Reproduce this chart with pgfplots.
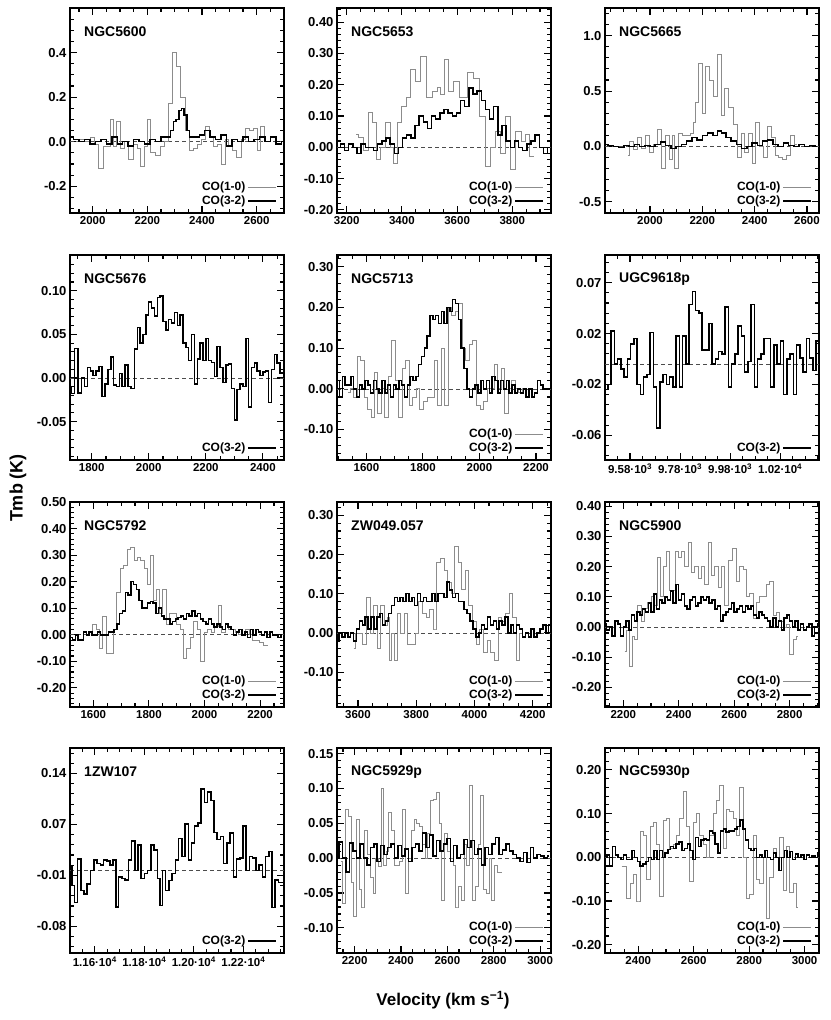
\documentclass[border=0pt]{standalone}
\usepackage{fontspec}
\setmainfont{Liberation Sans}
\usepackage{pgfplots}
\pgfplotsset{compat=1.18}

\pgfplotsset{
  panel/.style={
    scale only axis, width=214pt, height=205pt, anchor=north west,
    axis line style={line width=1.6pt},
    tick align=inside, scaled ticks=false,
    major tick length=7pt, minor tick length=4pt,
    every tick/.style={black, line width=1.1pt},
    xticklabel style={font=\bfseries\fontsize{11.5}{13}\selectfont},
    yticklabel style={font=\bfseries\fontsize{13}{14}\selectfont},
    xticklabel={\pgfmathprintnumber[fixed,precision=0,1000 sep={},assume math mode=true]{\tick}},
    legend style={draw=none, fill=none, at={(0.97,0.02)}, anchor=south east,
      font=\bfseries\fontsize{12}{12}\selectfont, row sep=0pt, inner sep=0.5pt},
    legend cell align=right, legend plot pos=right,
    legend image code/.code={\draw[#1] (0pt,0pt) -- (28pt,0pt);},
  },
  ylab/.style={yticklabel={\pgfmathprintnumber[fixed,fixed zerofill,precision=#1,assume math mode=true]{\tick}}},
  co10/.style={const plot mark mid, color=black!45, line width=0.8pt},
  co32/.style={const plot mark mid, black, line width=1.5pt},
  zero/.style={dash pattern=on 4pt off 3pt, black!70, line width=0.6pt, forget plot},
}
\newcommand{\galname}[1]{\node[anchor=west, font=\bfseries\fontsize{14}{16}\selectfont] at (rel axis cs:0.05,0.885) {#1};}

\begin{document}
\begin{tikzpicture}
\useasboundingbox (0,0) rectangle (830pt,-1020pt);

% ---------------- row 1 ----------------
\begin{axis}[panel, at={(70pt,-8pt)}, xmin=1917, xmax=2700, ymin=-0.32, ymax=0.6,
  xtick={2000,2200,2400,2600}, minor xtick={1950,2000,...,2700},
  ytick={-0.2,0,0.2,0.4}, minor ytick={-0.3,-0.25,...,0.6}, ylab=1]
\addplot[zero] coordinates {(1917,0) (2700,0)};
\addplot[co10] coordinates {(1940,0.0) (1960,0.01) (1980,0.0) (2000,0.02) (2015,-0.01) (2030,-0.12) (2045,-0.02) (2060,-0.02) (2070,0.1) (2080,-0.02) (2095,0.09) (2110,-0.03) (2125,0.0) (2140,-0.08) (2155,-0.01) (2170,-0.03) (2180,-0.11) (2195,-0.02) (2205,0.1) (2220,-0.05) (2240,-0.06) (2255,-0.02) (2270,0.0) (2285,0.17) (2300,0.4) (2315,0.34) (2330,0.2) (2345,0.05) (2360,-0.04) (2375,-0.03) (2390,-0.01) (2405,0.01) (2420,0.07) (2435,0.02) (2450,-0.02) (2465,-0.01) (2478,-0.1) (2490,0.01) (2505,-0.02) (2520,-0.04) (2535,-0.07) (2550,0.01) (2565,0.06) (2580,0.05) (2595,0.06) (2610,-0.04) (2620,0.07) (2635,0.02)};
\addlegendentry{CO(1-0)}
\addplot[co32] coordinates {(1920,0.02) (1940,0.01) (1960,0.0) (1980,0.01) (2000,-0.01) (2020,0.0) (2040,0.01) (2060,-0.01) (2080,0.02) (2100,-0.01) (2120,0.0) (2140,-0.02) (2160,0.01) (2180,0.0) (2200,-0.01) (2220,0.01) (2240,0.0) (2260,0.02) (2280,0.02) (2290,0.05) (2300,0.09) (2310,0.1) (2320,0.14) (2330,0.15) (2340,0.12) (2350,0.05) (2360,0.02) (2380,0.02) (2400,0.03) (2420,0.05) (2440,0.02) (2460,0.01) (2480,0.03) (2500,-0.02) (2520,0.01) (2540,0.0) (2560,0.02) (2580,0.0) (2600,0.01) (2620,0.02) (2640,0.0) (2660,0.02) (2680,-0.01) (2700,0.0)};
\addlegendentry{CO(3-2)}
\galname{NGC5600}
\end{axis}

\begin{axis}[panel, at={(337pt,-8pt)}, xmin=3165, xmax=3940, ymin=-0.21, ymax=0.445,
  xtick={3200,3400,3600,3800}, minor xtick={3200,3250,...,3900},
  ytick={-0.2,-0.1,0,0.1,0.2,0.3,0.4}, minor ytick={-0.2,-0.18,...,0.44}, ylab=2]
\addplot[zero] coordinates {(3165,0) (3940,0)};
\addplot[co10] coordinates {(3235,0.04) (3250,0.03) (3270,-0.01) (3290,0.11) (3300,0.08) (3315,-0.04) (3330,0.0) (3350,0.08) (3365,0.0) (3375,-0.05) (3390,0.08) (3410,0.13) (3425,0.16) (3440,0.25) (3455,0.21) (3480,0.29) (3500,0.16) (3520,0.18) (3535,0.19) (3545,0.17) (3560,0.28) (3575,0.18) (3595,0.21) (3625,0.16) (3650,0.24) (3670,0.22) (3690,0.1) (3712,-0.06) (3730,0.0) (3748,0.05) (3765,-0.02) (3785,0.1) (3800,-0.07) (3825,0.05) (3840,0.02) (3855,0.04) (3870,-0.03) (3880,-0.03)};
\addlegendentry{CO(1-0)}
\addplot[co32] coordinates {(3170,0.0) (3185,0.01) (3200,-0.01) (3215,0.01) (3230,0.0) (3245,-0.02) (3260,0.01) (3275,0.0) (3290,0.0) (3305,-0.01) (3320,0.01) (3335,0.02) (3350,0.03) (3365,0.01) (3380,-0.02) (3395,0.0) (3410,0.03) (3425,0.04) (3440,0.03) (3455,0.07) (3470,0.1) (3485,0.08) (3500,0.06) (3515,0.1) (3530,0.09) (3545,0.11) (3560,0.12) (3575,0.11) (3590,0.1) (3605,0.11) (3620,0.15) (3635,0.13) (3650,0.19) (3665,0.17) (3680,0.18) (3695,0.15) (3710,0.12) (3725,0.09) (3740,0.13) (3755,0.04) (3770,0.07) (3785,0.02) (3800,0.0) (3815,0.02) (3830,0.0) (3845,-0.01) (3860,0.01) (3875,0.02) (3890,0.04) (3905,0.0) (3920,-0.02) (3935,0.0)};
\addlegendentry{CO(3-2)}
\galname{NGC5653}
\end{axis}

\begin{axis}[panel, at={(605pt,-8pt)}, xmin=1828, xmax=2646, ymin=-0.6, ymax=1.25,
  xtick={2000,2200,2400,2600}, minor xtick={1850,1900,...,2600},
  ytick={-0.5,0,0.5,1.0}, minor ytick={-0.6,-0.5,...,1.2}, ylab=1]
\addplot[zero] coordinates {(1828,0) (2646,0)};
\addplot[co10] coordinates {(1915,-0.08) (1930,0.05) (1945,-0.03) (1960,0.08) (1975,-0.02) (1990,0.1) (2005,-0.05) (2020,0.02) (2035,0.15) (2050,-0.2) (2065,0.1) (2080,-0.12) (2090,0.1) (2100,-0.2) (2115,0.12) (2130,0.1) (2145,0.1) (2160,0.12) (2170,0.22) (2180,0.4) (2192,0.75) (2205,0.3) (2220,0.72) (2235,0.6) (2250,0.45) (2265,0.83) (2278,0.28) (2292,0.52) (2310,0.35) (2325,0.2) (2340,-0.1) (2355,0.12) (2370,-0.05) (2385,0.12) (2398,-0.15) (2410,0.22) (2425,0.0) (2440,-0.1) (2455,0.18) (2470,0.08) (2485,-0.08) (2500,-0.1) (2515,-0.12) (2530,-0.08) (2545,0.1) (2560,0.02)};
\addlegendentry{CO(1-0)}
\addplot[co32] coordinates {(1830,0.02) (1850,0.01) (1870,0.0) (1890,-0.01) (1910,0.01) (1930,0.0) (1950,0.02) (1970,0.0) (1990,0.01) (2010,0.0) (2030,0.02) (2050,0.04) (2070,0.01) (2090,-0.02) (2110,0.0) (2130,0.02) (2150,0.05) (2170,0.08) (2190,0.06) (2210,0.1) (2230,0.12) (2250,0.1) (2265,0.14) (2280,0.12) (2300,0.08) (2320,0.05) (2340,0.02) (2360,-0.02) (2380,0.0) (2400,0.03) (2420,0.01) (2440,0.05) (2460,0.06) (2480,0.02) (2500,0.0) (2520,0.03) (2540,0.01) (2560,0.0) (2580,0.02) (2600,0.0) (2620,0.01) (2640,0.0)};
\addlegendentry{CO(3-2)}
\galname{NGC5665}
\end{axis}

% ---------------- row 2 ----------------
\begin{axis}[panel, at={(70pt,-255pt)}, xmin=1724, xmax=2474, ymin=-0.094, ymax=0.141,
  xtick={1800,2000,2200,2400}, minor xtick={1750,1800,...,2450},
  ytick={-0.05,0,0.05,0.1}, minor ytick={-0.09,-0.08,...,0.14}, ylab=2]
\addplot[zero] coordinates {(1724,0) (2474,0)};
\addplot[co32] coordinates {(1725,-0.01) (1735,-0.018) (1745,0.034) (1758,-0.017) (1770,0.0) (1780,-0.01) (1790,0.012) (1800,0.008) (1810,0.003) (1820,0.008) (1830,0.013) (1842,-0.021) (1852,-0.007) (1862,0.01) (1872,0.024) (1882,-0.008) (1892,-0.01) (1902,0.005) (1912,-0.01) (1922,0.015) (1932,-0.01) (1945,-0.012) (1955,0.033) (1965,0.058) (1975,0.04) (1985,0.05) (1995,0.072) (2005,0.087) (2015,0.08) (2025,0.071) (2035,0.092) (2045,0.094) (2055,0.065) (2065,0.055) (2075,0.067) (2085,0.063) (2095,0.075) (2105,0.06) (2115,0.072) (2125,0.04) (2135,0.035) (2145,0.02) (2155,0.05) (2165,-0.007) (2175,0.022) (2185,0.04) (2195,0.02) (2205,0.045) (2215,0.02) (2225,0.018) (2235,0.002) (2245,0.036) (2255,0.012) (2265,-0.005) (2275,0.015) (2285,0.016) (2295,-0.012) (2305,-0.048) (2315,-0.013) (2325,-0.007) (2335,-0.01) (2345,0.045) (2355,-0.033) (2365,0.012) (2375,0.017) (2385,0.008) (2395,0.003) (2405,0.007) (2415,0.008) (2425,-0.028) (2435,0.01) (2445,0.027) (2455,0.017) (2465,0.006) (2474,0.006)};
\addlegendentry{CO(3-2)}
\galname{NGC5676}
\end{axis}

\begin{axis}[panel, at={(337pt,-255pt)}, xmin=1496, xmax=2253, ymin=-0.175, ymax=0.329,
  xtick={1600,1800,2000,2200}, minor xtick={1500,1550,...,2250},
  ytick={-0.1,0,0.1,0.2,0.3}, minor ytick={-0.16,-0.14,...,0.32}, ylab=2]
\addplot[zero] coordinates {(1496,0) (2253,0)};
\addplot[co10] coordinates {(1535,-0.01) (1550,0.0) (1560,-0.02) (1575,0.08) (1585,0.07) (1598,-0.02) (1610,-0.05) (1622,-0.07) (1635,0.04) (1645,-0.06) (1658,0.0) (1670,-0.07) (1683,0.03) (1695,0.12) (1708,0.02) (1720,-0.07) (1733,0.05) (1745,0.07) (1758,-0.04) (1770,-0.02) (1783,0.0) (1795,-0.05) (1808,-0.03) (1820,-0.02) (1833,-0.02) (1845,0.07) (1858,-0.04) (1870,0.1) (1882,-0.04) (1895,0.2) (1908,0.18) (1920,0.19) (1933,0.21) (1945,0.1) (1958,0.07) (1970,0.11) (1983,0.12) (1995,-0.04) (2008,-0.05) (2020,-0.03) (2033,0.0) (2045,0.0) (2058,0.06) (2070,0.0) (2083,0.05) (2095,-0.06) (2108,0.0) (2120,0.02) (2133,0.0) (2145,-0.01) (2158,0.0)};
\addlegendentry{CO(1-0)}
\addplot[co32] coordinates {(1500,0.02) (1510,-0.02) (1520,0.03) (1530,0.01) (1540,0.01) (1550,0.03) (1560,0.0) (1570,-0.02) (1580,0.01) (1590,0.0) (1600,0.02) (1610,0.01) (1620,-0.01) (1630,0.02) (1640,0.0) (1650,-0.01) (1660,0.02) (1670,-0.01) (1680,0.01) (1690,-0.02) (1700,0.01) (1710,0.0) (1720,0.02) (1730,0.01) (1740,-0.02) (1750,0.01) (1760,0.03) (1770,0.02) (1780,0.03) (1790,0.06) (1800,0.08) (1810,0.1) (1820,0.13) (1830,0.18) (1840,0.17) (1850,0.18) (1860,0.16) (1870,0.19) (1880,0.16) (1890,0.2) (1900,0.19) (1910,0.22) (1920,0.21) (1930,0.17) (1940,0.1) (1950,0.05) (1960,0.0) (1970,-0.02) (1980,0.0) (1990,0.01) (2000,-0.01) (2010,0.02) (2020,0.0) (2030,0.02) (2040,-0.01) (2050,0.03) (2060,0.02) (2070,-0.01) (2080,0.02) (2090,0.0) (2100,0.02) (2110,-0.01) (2120,0.01) (2130,-0.01) (2140,0.0) (2150,-0.01) (2160,0.0) (2170,-0.02) (2180,0.0) (2190,-0.02) (2200,-0.01) (2210,0.02) (2220,0.01) (2230,0.0) (2240,0.0) (2250,0.0)};
\addlegendentry{CO(3-2)}
\galname{NGC5713}
\end{axis}

\begin{axis}[panel, at={(605pt,-255pt)}, xmin=9480, xmax=10335, ymin=-0.0753, ymax=0.0857,
  xtick={9580,9780,9980,10180},
  xticklabels={9.58·10\textsuperscript{3},9.78·10\textsuperscript{3},9.98·10\textsuperscript{3},1.02·10\textsuperscript{4}},
  minor xtick={9480,9530,...,10330},
  ytick={-0.056,-0.016,0.024,0.064}, yticklabels={-0.06,-0.02,0.02,0.07},
  minor ytick={-0.072,-0.064,...,0.08}]
\addplot[zero] coordinates {(9480,0) (10335,0)};
\addplot[co32] coordinates {(9485,-0.02) (9498,-0.016) (9511,0.026) (9524,0.0) (9537,0.004) (9550,-0.004) (9563,-0.01) (9576,0.004) (9589,0.016) (9602,0.02) (9615,-0.016) (9628,-0.024) (9641,-0.01) (9654,-0.008) (9667,0.025) (9680,-0.018) (9693,-0.05) (9706,-0.014) (9719,-0.008) (9732,-0.016) (9745,-0.01) (9758,-0.018) (9771,0.022) (9784,-0.018) (9797,0.022) (9810,0.0) (9823,0.047) (9836,0.057) (9849,0.042) (9862,0.04) (9875,0.011) (9888,0.011) (9901,0.032) (9914,0.0) (9927,0.004) (9940,0.01) (9953,0.008) (9966,0.045) (9979,-0.018) (9992,0.0) (10005,0.008) (10018,0.03) (10031,0.022) (10044,-0.006) (10057,0.002) (10070,0.047) (10083,-0.018) (10096,0.004) (10109,0.008) (10122,0.02) (10135,0.02) (10148,-0.018) (10161,0.015) (10174,0.0) (10187,0.018) (10200,-0.024) (10213,0.004) (10226,0.008) (10239,-0.024) (10252,0.015) (10265,0.005) (10278,-0.006) (10291,0.02) (10304,0.005) (10317,-0.005) (10330,0.018)};
\addlegendentry{CO(3-2)}
\galname{UGC9618p}
\end{axis}

% ---------------- row 3 ----------------
\begin{axis}[panel, at={(70pt,-502pt)}, xmin=1516, xmax=2286, ymin=-0.272, ymax=0.5,
  xtick={1600,1800,2000,2200}, minor xtick={1550,1600,...,2250},
  ytick={-0.2,-0.1,0,0.1,0.2,0.3,0.4,0.5}, minor ytick={-0.26,-0.24,...,0.5}, ylab=2]
\addplot[zero] coordinates {(1516,0) (2286,0)};
\addplot[co10] coordinates {(1590,0.0) (1605,0.04) (1615,0.02) (1627,-0.05) (1640,0.07) (1652,-0.07) (1665,-0.07) (1678,0.02) (1690,0.16) (1702,0.25) (1715,0.26) (1728,0.32) (1740,0.33) (1752,0.28) (1765,0.29) (1777,0.28) (1790,0.25) (1802,0.19) (1810,0.3) (1820,0.13) (1832,0.17) (1844,0.08) (1856,0.17) (1868,0.04) (1880,0.08) (1893,0.08) (1905,0.04) (1918,0.02) (1930,-0.09) (1942,-0.05) (1955,-0.01) (1967,0.05) (1980,0.02) (1992,-0.1) (2005,0.01) (2017,0.02) (2030,0.01) (2042,0.03) (2055,0.11) (2067,0.01) (2080,0.04) (2092,0.02) (2105,0.02) (2117,0.01) (2130,0.0) (2142,0.0) (2155,0.02) (2167,0.0) (2180,-0.02) (2192,-0.02) (2205,-0.03) (2217,-0.04) (2230,-0.04)};
\addlegendentry{CO(1-0)}
\addplot[co32] coordinates {(1520,-0.01) (1530,-0.02) (1540,0.0) (1550,-0.02) (1560,-0.02) (1570,0.01) (1580,0.0) (1590,0.01) (1600,0.0) (1610,0.0) (1620,0.01) (1630,0.0) (1640,0.0) (1650,0.0) (1660,0.01) (1670,0.01) (1680,0.02) (1690,0.04) (1700,0.08) (1710,0.09) (1720,0.16) (1730,0.15) (1740,0.2) (1750,0.19) (1760,0.17) (1770,0.13) (1780,0.1) (1790,0.1) (1800,0.12) (1810,0.125) (1820,0.12) (1830,0.08) (1840,0.1) (1850,0.07) (1860,0.06) (1870,0.06) (1880,0.04) (1890,0.05) (1900,0.06) (1910,0.065) (1920,0.07) (1930,0.06) (1940,0.08) (1950,0.07) (1960,0.09) (1970,0.07) (1980,0.08) (1990,0.06) (2000,0.05) (2010,0.04) (2020,0.06) (2030,0.04) (2040,0.03) (2050,0.04) (2060,0.03) (2070,0.02) (2080,0.04) (2090,0.03) (2100,0.02) (2110,0.0) (2120,0.01) (2130,0.02) (2140,0.0) (2150,0.01) (2160,-0.01) (2170,0.02) (2180,0.0) (2190,0.02) (2200,0.01) (2210,0.0) (2220,0.01) (2230,-0.01) (2240,0.01) (2250,0.0) (2260,0.0) (2270,-0.01) (2280,0.0)};
\addlegendentry{CO(3-2)}
\galname{NGC5792}
\end{axis}

\begin{axis}[panel, at={(337pt,-502pt)}, xmin=3528, xmax=4263, ymin=-0.189, ymax=0.334,
  xtick={3600,3800,4000,4200}, minor xtick={3550,3600,...,4250},
  ytick={-0.1,0,0.1,0.2,0.3}, minor ytick={-0.18,-0.16,...,0.32}, ylab=2]
\addplot[zero] coordinates {(3528,0) (4263,0)};
\addplot[co10] coordinates {(3585,-0.04) (3598,0.0) (3610,0.0) (3622,-0.03) (3635,0.09) (3647,0.0) (3660,0.07) (3672,-0.04) (3685,0.07) (3697,0.02) (3705,0.04) (3712,-0.07) (3720,0.0) (3728,-0.07) (3740,0.05) (3752,0.0) (3765,0.05) (3777,-0.03) (3790,-0.03) (3802,0.0) (3815,0.08) (3827,0.05) (3840,0.04) (3852,0.06) (3865,0.01) (3877,0.18) (3890,0.19) (3902,0.16) (3914,0.13) (3926,0.1) (3938,0.22) (3950,0.18) (3962,0.11) (3975,0.16) (3987,0.07) (4000,0.03) (4012,-0.03) (4025,0.01) (4037,-0.05) (4050,-0.02) (4062,-0.05) (4075,-0.07) (4087,0.04) (4100,0.03) (4112,0.05) (4125,0.1) (4137,0.04) (4150,-0.07) (4162,0.0)};
\addlegendentry{CO(1-0)}
\addplot[co32] coordinates {(3530,-0.02) (3540,0.0) (3550,-0.01) (3560,0.0) (3570,-0.01) (3580,0.0) (3590,-0.02) (3600,0.01) (3610,0.03) (3620,0.02) (3630,0.04) (3640,0.01) (3650,0.04) (3660,0.01) (3670,0.04) (3680,0.05) (3690,0.02) (3700,0.03) (3710,0.05) (3720,0.07) (3730,0.09) (3740,0.08) (3750,0.09) (3760,0.08) (3770,0.1) (3780,0.08) (3790,0.09) (3800,0.07) (3810,0.1) (3820,0.08) (3830,0.09) (3840,0.08) (3850,0.08) (3860,0.1) (3870,0.08) (3880,0.1) (3890,0.1) (3900,0.09) (3910,0.13) (3920,0.11) (3930,0.09) (3940,0.1) (3950,0.08) (3960,0.08) (3970,0.06) (3980,0.05) (3990,0.03) (4000,0.01) (4010,-0.01) (4020,0.0) (4030,0.02) (4040,0.01) (4050,0.04) (4060,0.02) (4070,0.03) (4080,0.01) (4090,0.03) (4100,0.02) (4110,0.04) (4120,0.0) (4130,0.02) (4140,0.0) (4150,0.02) (4160,0.01) (4170,-0.01) (4180,0.0) (4190,-0.01) (4200,0.01) (4210,-0.01) (4220,0.0) (4230,0.01) (4240,0.02) (4250,0.0) (4260,0.02)};
\addlegendentry{CO(3-2)}
\galname{ZW049.057}
\end{axis}

\begin{axis}[panel, at={(605pt,-502pt)}, xmin=2134, xmax=2906, ymin=-0.265, ymax=0.414,
  xtick={2200,2400,2600,2800}, minor xtick={2150,2200,...,2900},
  ytick={-0.2,-0.1,0,0.1,0.2,0.3,0.4}, minor ytick={-0.26,-0.24,...,0.4}, ylab=2]
\addplot[zero] coordinates {(2134,0) (2906,0)};
\addplot[co10] coordinates {(2205,-0.08) (2217,-0.01) (2227,-0.13) (2236,-0.03) (2246,-0.04) (2258,0.07) (2270,0.02) (2282,0.06) (2294,0.08) (2306,0.1) (2318,0.07) (2328,0.23) (2340,0.1) (2350,0.2) (2362,0.25) (2374,0.12) (2386,0.12) (2392,0.25) (2404,0.23) (2416,0.25) (2428,0.2) (2440,0.28) (2452,0.18) (2464,0.2) (2476,0.16) (2488,0.2) (2500,0.14) (2512,0.28) (2524,0.17) (2536,0.2) (2548,0.13) (2560,0.2) (2572,0.07) (2584,0.22) (2602,0.26) (2614,0.15) (2626,0.2) (2638,0.19) (2650,0.1) (2662,0.11) (2674,0.03) (2686,0.08) (2698,0.1) (2710,0.1) (2722,0.14) (2734,0.15) (2746,0.04) (2758,0.05) (2770,0.02) (2782,0.0) (2794,0.01) (2806,-0.09) (2818,-0.04) (2830,-0.03)};
\addlegendentry{CO(1-0)}
\addplot[co32] coordinates {(2135,0.01) (2145,-0.01) (2155,0.0) (2165,-0.03) (2175,0.02) (2185,0.01) (2195,-0.03) (2205,0.0) (2215,0.02) (2225,-0.01) (2235,0.04) (2245,0.02) (2255,0.05) (2265,0.04) (2275,0.06) (2285,0.05) (2295,0.08) (2305,0.05) (2315,0.11) (2325,0.06) (2335,0.09) (2345,0.08) (2355,0.1) (2365,0.09) (2375,0.12) (2385,0.08) (2395,0.14) (2405,0.09) (2415,0.11) (2425,0.07) (2435,0.06) (2445,0.09) (2455,0.1) (2465,0.07) (2475,0.08) (2485,0.1) (2495,0.09) (2505,0.1) (2515,0.08) (2525,0.09) (2535,0.06) (2545,0.07) (2555,0.02) (2565,0.04) (2575,0.05) (2585,0.06) (2595,0.08) (2605,0.05) (2615,0.06) (2625,0.07) (2635,0.05) (2645,0.07) (2655,0.06) (2665,0.07) (2675,0.04) (2685,0.03) (2695,0.05) (2705,0.04) (2715,0.03) (2725,0.02) (2735,0.0) (2745,0.03) (2755,0.0) (2765,0.02) (2775,-0.01) (2785,0.03) (2795,0.04) (2805,0.02) (2815,0.0) (2825,0.02) (2835,-0.01) (2845,0.01) (2855,-0.01) (2865,0.0) (2875,0.01) (2885,-0.03) (2895,0.0) (2905,0.01)};
\addlegendentry{CO(3-2)}
\galname{NGC5900}
\end{axis}

% ---------------- row 4 ----------------
\begin{axis}[panel, at={(70pt,-748pt)}, xmin=11500, xmax=12364, ymin=-0.1217, ymax=0.18,
  xtick={11600,11800,12000,12200},
  xticklabels={1.16·10\textsuperscript{4},1.18·10\textsuperscript{4},1.20·10\textsuperscript{4},1.22·10\textsuperscript{4}},
  minor xtick={11500,11550,...,12350},
  ytick={-0.0825,-0.0075,0.0675,0.1425}, yticklabels={-0.08,-0.01,0.07,0.14},
  minor ytick={-0.1125,-0.0975,...,0.1725}]
\addplot[zero] coordinates {(11500,0) (12364,0)};
\addplot[co32] coordinates {(11505,0.005) (11513,-0.022) (11525,-0.047) (11537,0.017) (11550,-0.03) (11563,-0.035) (11576,-0.02) (11590,0.0) (11603,0.015) (11616,0.01) (11629,0.008) (11642,0.015) (11655,0.014) (11668,0.008) (11681,0.015) (11690,-0.054) (11703,-0.01) (11716,-0.012) (11729,-0.014) (11742,0.015) (11755,0.043) (11768,0.0) (11781,0.037) (11794,-0.012) (11807,-0.005) (11820,0.0) (11833,0.037) (11846,0.03) (11859,-0.012) (11868,-0.052) (11880,0.0) (11893,-0.03) (11906,-0.015) (11919,-0.005) (11932,0.015) (11945,0.047) (11958,0.02) (11971,0.068) (11984,0.015) (11997,0.04) (12010,0.065) (12023,0.07) (12036,0.12) (12049,0.1) (12062,0.115) (12075,0.103) (12088,0.056) (12101,0.045) (12114,0.05) (12127,0.01) (12140,0.04) (12153,0.055) (12166,-0.01) (12179,0.017) (12192,0.018) (12205,0.065) (12218,0.0) (12231,0.02) (12244,0.018) (12257,0.0) (12270,0.008) (12283,-0.01) (12296,0.02) (12309,0.028) (12322,-0.055) (12335,-0.014) (12348,-0.018) (12362,-0.018)};
\addlegendentry{CO(3-2)}
\galname{1ZW107}
\end{axis}

\begin{axis}[panel, at={(337pt,-748pt)}, xmin=2124, xmax=3047, ymin=-0.136, ymax=0.158,
  xtick={2200,2400,2600,2800,3000}, minor xtick={2150,2200,...,3000},
  ytick={-0.1,-0.05,0,0.05,0.1,0.15}, minor ytick={-0.13,-0.12,...,0.15}, ylab=2]
\addplot[zero] coordinates {(2124,0) (3047,0)};
\addplot[co10] coordinates {(2143,-0.005) (2155,-0.065) (2167,0.07) (2178,0.06) (2190,-0.035) (2202,-0.083) (2213,0.055) (2225,-0.045) (2237,-0.07) (2249,0.04) (2261,0.005) (2273,-0.028) (2285,-0.05) (2297,0.0) (2309,-0.012) (2318,0.1) (2330,-0.01) (2342,0.01) (2352,0.065) (2364,0.04) (2376,-0.01) (2388,-0.01) (2400,-0.005) (2414,0.07) (2426,-0.05) (2438,0.0) (2450,0.04) (2462,0.055) (2474,0.05) (2486,0.045) (2498,0.02) (2510,0.0) (2522,0.035) (2534,0.083) (2546,0.085) (2558,0.095) (2570,0.05) (2582,-0.06) (2594,0.035) (2606,0.01) (2618,0.0) (2630,-0.01) (2642,-0.07) (2654,-0.04) (2666,-0.06) (2678,0.02) (2690,-0.01) (2702,0.105) (2714,-0.06) (2726,-0.04) (2738,0.02) (2750,0.09) (2762,-0.045) (2774,-0.05) (2786,0.0) (2798,-0.06) (2810,-0.01) (2822,-0.02) (2834,-0.02)};
\addlegendentry{CO(1-0)}
\addplot[co32] coordinates {(2125,0.0) (2140,0.023) (2155,0.0) (2170,-0.02) (2185,0.022) (2200,0.01) (2215,0.0) (2230,0.02) (2245,0.0) (2260,-0.01) (2275,0.015) (2290,0.02) (2305,-0.005) (2320,0.018) (2335,0.005) (2350,0.015) (2365,0.02) (2380,0.0) (2395,0.018) (2410,0.003) (2425,0.013) (2440,-0.005) (2455,0.015) (2470,0.02) (2485,0.01) (2500,0.036) (2515,0.015) (2530,0.033) (2545,0.003) (2560,0.025) (2575,0.01) (2590,0.02) (2605,0.028) (2620,-0.005) (2635,0.018) (2650,0.0) (2665,0.005) (2680,0.027) (2695,0.015) (2710,0.025) (2725,0.005) (2740,0.013) (2755,-0.01) (2770,0.015) (2785,0.005) (2800,0.02) (2815,0.03) (2830,0.005) (2845,0.012) (2860,0.02) (2875,0.01) (2890,0.005) (2905,0.0) (2920,-0.005) (2935,0.008) (2950,-0.006) (2965,0.015) (2980,0.0) (2995,0.005) (3010,0.003) (3025,0.0) (3040,0.003)};
\addlegendentry{CO(3-2)}
\galname{NGC5929p}
\end{axis}

\begin{axis}[panel, at={(605pt,-748pt)}, xmin=2280, xmax=3052, ymin=-0.219, ymax=0.25,
  xtick={2400,2600,2800,3000}, minor xtick={2300,2350,...,3050},
  ytick={-0.2,-0.1,0,0.1,0.2}, minor ytick={-0.2,-0.18,...,0.24}, ylab=2]
\addplot[zero] coordinates {(2280,0) (3052,0)};
\addplot[co10] coordinates {(2340,-0.02) (2352,-0.02) (2364,-0.095) (2376,-0.06) (2388,-0.04) (2400,-0.1) (2412,0.06) (2424,0.05) (2436,-0.05) (2448,0.07) (2460,0.08) (2472,0.03) (2484,-0.09) (2496,0.085) (2508,0.09) (2520,0.02) (2532,0.03) (2544,0.05) (2556,0.09) (2568,0.15) (2580,0.07) (2592,-0.055) (2604,0.08) (2616,0.1) (2628,0.05) (2640,0.03) (2652,0.0) (2664,0.05) (2676,0.1) (2688,0.13) (2700,0.165) (2712,0.02) (2724,0.11) (2736,0.105) (2748,0.09) (2760,0.05) (2772,0.16) (2784,0.0) (2796,-0.095) (2808,-0.085) (2820,0.05) (2832,-0.05) (2844,-0.06) (2856,0.0) (2868,-0.14) (2880,-0.045) (2892,0.02) (2904,0.0) (2916,0.045) (2928,-0.075) (2940,0.025) (2952,-0.08) (2964,-0.06) (2976,-0.115)};
\addlegendentry{CO(1-0)}
\addplot[co32] coordinates {(2282,0.0) (2292,0.005) (2302,-0.02) (2312,0.025) (2322,0.005) (2332,0.0) (2342,-0.005) (2352,0.005) (2362,-0.005) (2372,-0.005) (2382,0.015) (2392,0.0) (2402,-0.01) (2412,-0.02) (2422,-0.015) (2432,-0.01) (2442,0.0) (2452,-0.005) (2462,0.015) (2472,-0.005) (2482,0.015) (2492,0.0) (2502,0.01) (2512,0.018) (2522,0.025) (2532,0.02) (2542,0.03) (2552,0.035) (2562,0.015) (2572,0.02) (2582,0.03) (2592,0.015) (2602,-0.005) (2612,0.045) (2622,0.025) (2632,0.04) (2642,0.042) (2652,0.04) (2662,0.06) (2672,0.055) (2682,0.03) (2692,0.01) (2702,0.06) (2712,0.065) (2722,0.058) (2732,0.06) (2742,0.06) (2752,0.065) (2762,0.07) (2772,0.085) (2782,0.065) (2792,0.04) (2802,0.02) (2812,0.015) (2822,0.02) (2832,0.0) (2842,0.005) (2852,0.0) (2862,0.015) (2872,0.0) (2882,-0.005) (2892,0.01) (2902,0.0) (2912,-0.03) (2922,0.0) (2932,0.015) (2942,0.0) (2952,0.013) (2962,-0.005) (2972,0.008) (2982,0.0) (2992,0.005) (3002,-0.005) (3012,0.005) (3022,0.0) (3032,0.003) (3042,0.0) (3050,0.01)};
\addlegendentry{CO(3-2)}
\galname{NGC5930p}
\end{axis}

\node[rotate=90, font=\bfseries\fontsize{18}{20}\selectfont] at (18pt,-488pt) {Tmb (K)};
\node[font=\bfseries\fontsize{17}{19}\selectfont] at (443pt,-1000pt) {Velocity (km s\textsuperscript{−1})};
\end{tikzpicture}
\end{document}
